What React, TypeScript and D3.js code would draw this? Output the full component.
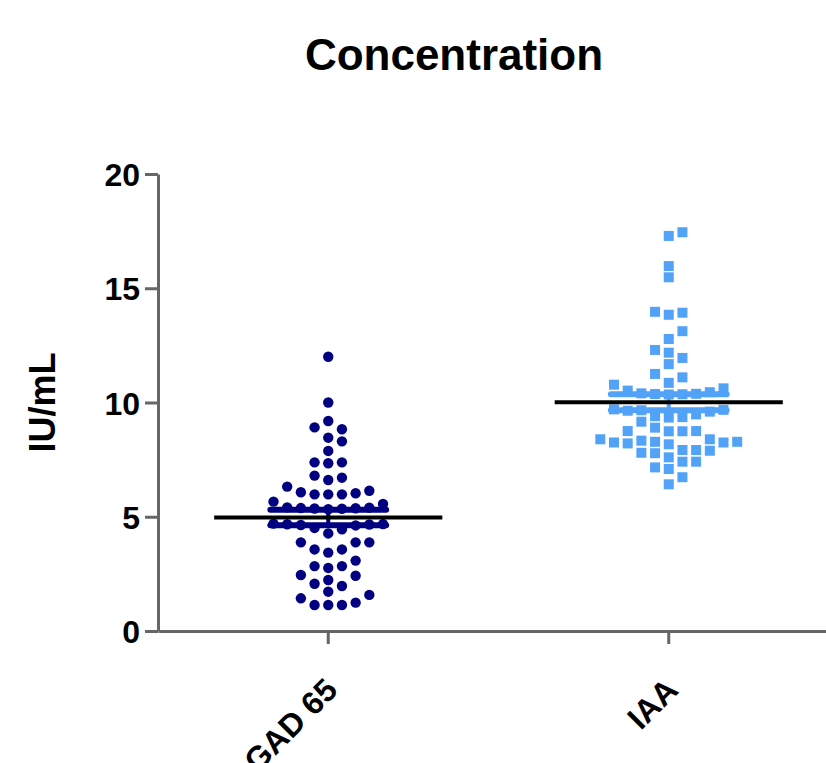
import React from "react";
import * as d3 from "d3";

const categories = ["GAD 65", "IAA"];

const gadValues = [
  12.0, 10.0, 9.19, 8.91, 8.83, 8.46, 8.3, 7.88, 7.38, 7.34, 7.38, 6.8, 6.71, 6.61, 6.32, 6.14,
  6.07, 6.03, 5.98, 5.98, 5.98, 5.66, 5.56,
  5.41, 5.38, 5.36, 5.35, 5.33, 5.4, 5.37,
  4.68, 4.66, 4.64, 4.7, 4.62, 4.67,
  4.51, 4.45, 4.27,
  3.88, 3.88, 3.88, 3.57, 3.43, 3.57, 3.08, 2.84, 2.76, 2.84, 2.45, 2.42, 2.23, 2.07, 1.97,
  1.72, 1.58, 1.43, 1.24, 1.14, 1.14, 1.14,
];

const iaaValues = [
  17.45, 17.29, 15.97, 15.48, 13.97, 13.93, 13.84, 13.12, 12.78, 12.3, 12.18, 11.95, 11.68,
  11.25, 11.1, 10.86, 10.78,
  10.62, 10.52, 10.45, 10.4, 10.38, 10.36, 10.35, 10.37,
  9.7, 9.68, 9.66, 9.64, 9.6, 9.48, 9.4, 9.36, 9.34, 9.16,
  8.9, 8.75, 8.75, 8.74, 8.74,
  8.39, 8.39, 8.33, 8.28, 8.28, 8.25, 8.25, 8.21, 8.17,
  7.92, 7.89, 7.92, 7.8, 7.78, 7.6, 7.41, 7.41, 7.16, 7.09, 6.73, 6.42,
];

const seriesValues = [gadValues, iaaValues];
const means = [4.97, 10.01];
const sems = [0.34, 0.35];
const yTicks = [0, 5, 10, 15, 20];
const seriesColors = ["#000080", "#52a2f7"];
const titleText = "Concentration";
const yLabelText = "IU/mL";

const W = 826;
const H = 763;
const FONT = "'Liberation Sans', Arial, Helvetica, sans-serif";

const x = d3.scaleBand<string>().domain(categories).range([158, 839]);
const y = d3.scaleLinear().domain([0, 20]).range([631, 174]);

type Placed = { v: number; py: number; col: number };

function swarm(values: number[], D: number, maxCol: number): Placed[] {
  const sorted = [...values].sort((a, b) => a - b);
  const cands: number[] = [0];
  for (let k = 1; k <= maxCol; k++) cands.push(k, -k);
  const placed: Placed[] = [];
  for (const v of sorted) {
    const py = y(v);
    let chosen: number | null = null;
    for (const c of cands) {
      if (!placed.some((q) => q.col === c && Math.abs(q.py - py) < D)) {
        chosen = c;
        break;
      }
    }
    if (chosen === null) {
      let best = cands[0];
      let bestCount = Infinity;
      for (const c of cands) {
        const n = placed.filter((q) => q.col === c && Math.abs(q.py - py) < D).length;
        if (n < bestCount) {
          bestCount = n;
          best = c;
        }
      }
      chosen = best;
    }
    placed.push({ v, py, col: chosen });
  }
  return placed;
}

export default function App() {
  const band = x.bandwidth();
  const step = band * 0.0402;
  const meanHalf = band * 0.335;
  const capHalf = band * 0.17;
  const r = 5.2;
  const sq = 10;

  const yAxisRef = React.useRef<SVGGElement>(null);
  const xAxisRef = React.useRef<SVGGElement>(null);

  React.useEffect(() => {
    if (yAxisRef.current) {
      const g = d3.select(yAxisRef.current);
      g.call(d3.axisLeft(y).tickValues(yTicks).tickSize(13).tickSizeOuter(0).tickPadding(5) as any);
      g.select(".domain").attr("stroke", "#666").attr("stroke-width", 3);
      g.selectAll(".tick line").attr("stroke", "#666").attr("stroke-width", 3);
      g.selectAll(".tick text")
        .attr("fill", "#000")
        .attr("font-size", 32)
        .attr("font-weight", "bold")
        .attr("font-family", FONT)
        .attr("dy", "0.36em");
    }
    if (xAxisRef.current) {
      const g = d3.select(xAxisRef.current);
      g.call(d3.axisBottom(x).tickSize(13).tickSizeOuter(0) as any);
      g.select(".domain").attr("stroke", "#666").attr("stroke-width", 3);
      g.selectAll(".tick line").attr("stroke", "#666").attr("stroke-width", 3);
      g.selectAll(".tick text")
        .attr("fill", "#000")
        .attr("font-size", 32)
        .attr("font-weight", "bold")
        .attr("font-family", FONT)
        .attr("text-anchor", "end")
        .attr("dy", null)
        .attr("y", 0)
        .attr("transform", "translate(11,61) rotate(-45)");
    }
  }, []);

  return (
    <svg
      width={W}
      height={H}
      style={{ position: "absolute", left: 0, top: 0, background: "#fff" }}
    >
      <text
        x={454}
        y={70}
        textAnchor="middle"
        fontFamily={FONT}
        fontWeight="bold"
        fontSize={44}
      >
        {titleText}
      </text>
      <text
        transform={`translate(55, ${y(10)}) rotate(-90)`}
        textAnchor="middle"
        fontFamily={FONT}
        fontWeight="bold"
        fontSize={36}
      >
        {yLabelText}
      </text>

      {seriesValues.map((vals, si) => {
        const cx = (x(categories[si]) as number) + band / 2;
        const pts = swarm(vals, 11, 6);
        return (
          <g key={categories[si]} fill={seriesColors[si]}>
            {pts.map((p, i) =>
              si === 0 ? (
                <circle key={i} cx={cx + p.col * step} cy={p.py} r={r} />
              ) : (
                <rect
                  key={i}
                  x={cx + p.col * step - sq / 2}
                  y={p.py - sq / 2}
                  width={sq}
                  height={sq}
                />
              )
            )}
          </g>
        );
      })}

      {categories.map((c, si) => {
        const cx = (x(c) as number) + band / 2;
        const lo = y(means[si] - sems[si]);
        const hi = y(means[si] + sems[si]);
        const col = seriesColors[si];
        return (
          <g key={"eb" + c}>
            <line x1={cx} x2={cx} y1={lo} y2={hi} stroke={col} strokeWidth={4} />
            <line x1={cx - capHalf} x2={cx + capHalf} y1={hi} y2={hi} stroke={col} strokeWidth={6} strokeLinecap="round" />
            <line x1={cx - capHalf} x2={cx + capHalf} y1={lo} y2={lo} stroke={col} strokeWidth={6} strokeLinecap="round" />
            <line
              x1={cx - meanHalf}
              x2={cx + meanHalf}
              y1={y(means[si])}
              y2={y(means[si])}
              stroke="#000"
              strokeWidth={4}
            />
          </g>
        );
      })}

      <g ref={yAxisRef} transform={`translate(${x.range()[0]},0)`} />
      <g ref={xAxisRef} transform={`translate(0,${y(0)})`} />
    </svg>
  );
}
